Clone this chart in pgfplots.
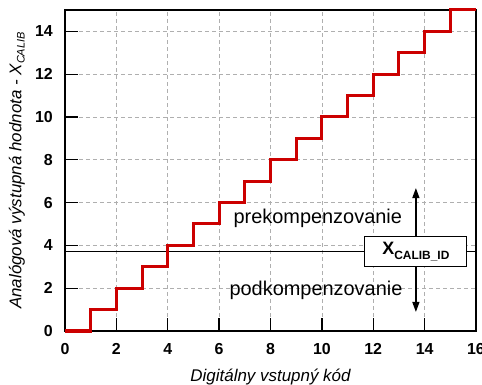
\documentclass[border=0pt]{standalone}
\usepackage{fontspec}
\setmainfont{Liberation Sans}
\usepackage{pgfplots}
\pgfplotsset{compat=1.18}
\usetikzlibrary{arrows.meta}
\definecolor{stairred}{RGB}{204,0,0}
\definecolor{gridgray}{RGB}{175,175,175}

\begin{document}
\begin{tikzpicture}
\begin{axis}[
  scale only axis,
  width=411bp, height=321bp,
  xmin=0, xmax=16, ymin=0, ymax=15,
  xtick={0,2,...,16}, ytick={0,2,...,14},
  xtick pos=lower, ytick pos=left,
  tick align=inside,
  major tick length=13bp,
  every tick/.style={black, line width=1.3bp},
  axis line style={line width=1.5bp},
  grid=major,
  major grid style={gridgray, dash pattern=on 4bp off 3bp, line width=0.6bp},
  /pgf/number format/assume math mode=true,
  xticklabel style={font=\bfseries\fontsize{16}{16}\selectfont, inner sep=0pt, anchor=north, yshift=-12bp},
  yticklabel style={font=\bfseries\fontsize{16}{16}\selectfont, inner sep=0pt, anchor=east, xshift=-12bp},
  every axis x label/.style={at={(axis description cs:0.5,-0.1433)}, anchor=center},
  every axis y label/.style={at={(axis description cs:-0.1168,0.5)}, rotate=90, anchor=center},
  xlabel={\itshape\fontsize{17}{17}\selectfont Digitálny vstupný kód},
  ylabel={\itshape\fontsize{17}{17}\selectfont Analógová výstupná hodnota - X\raisebox{-0.35ex}{\fontsize{11}{11}\selectfont CALIB}},
  clip=false,
  axis on top=false,
]
% calibration reference level
\addplot[black, line width=1bp] coordinates {(0,3.7) (16,3.7)};
% ideal transfer staircase
\addplot[stairred, line width=3bp, const plot] coordinates {
  (0,0) (1,1) (2,2) (3,3) (4,4) (5,5) (6,6) (7,7) (8,8)
  (9,9) (10,10) (11,11) (12,12) (13,13) (14,14) (15,15) (16,15)};
% over / under compensation arrows
\draw[-{Triangle[length=10bp,width=7bp]}, line width=1.3bp] (axis cs:13.66,4.39) -- (axis cs:13.66,6.68);
\draw[-{Triangle[length=10bp,width=7bp]}, line width=1.3bp] (axis cs:13.66,2.99) -- (axis cs:13.66,0.89);
\node[draw, fill=white, line width=1.2bp, minimum width=102bp, minimum height=30bp, inner sep=0pt]
  at (axis cs:13.66,3.7)
  {\bfseries\fontsize{18}{18}\selectfont X\raisebox{-5bp}{\fontsize{12}{12}\selectfont CALIB\_ID}};
\node[font=\fontsize{20}{20}\selectfont] at (axis cs:9.84,5.28) {prekompenzovanie};
\node[font=\fontsize{20}{20}\selectfont] at (axis cs:9.77,1.92) {podkompenzovanie};
\end{axis}
\pgfresetboundingbox
\path (-65bp,-54bp) rectangle (417bp,331bp);
\end{tikzpicture}
\end{document}
